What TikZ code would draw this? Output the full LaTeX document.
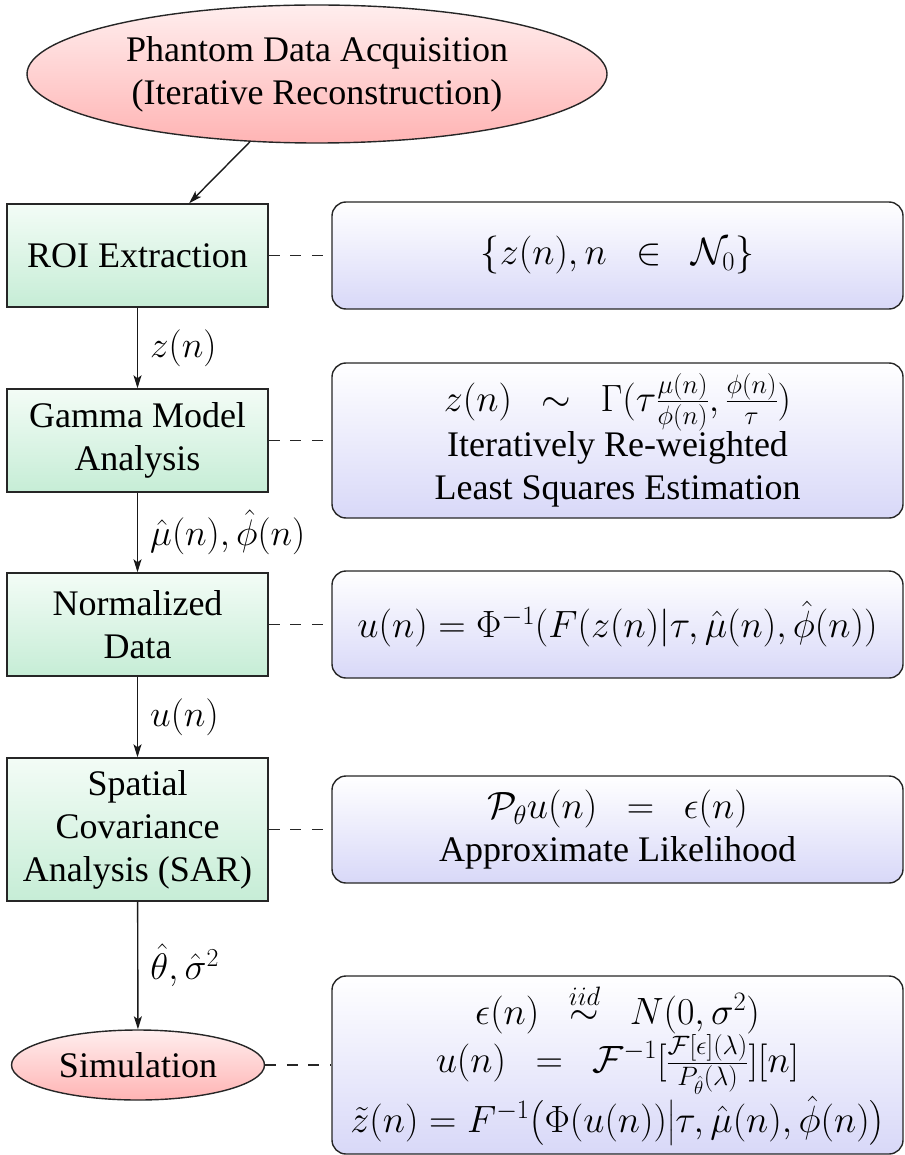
\RequirePackage{fix-cm}
\documentclass[tikz,border=0pt]{standalone}
\usepackage{amsmath}
\usepackage{exscale}
\usepackage[no-math]{fontspec}
\setmainfont{Liberation Serif}
\usetikzlibrary{shapes.geometric,arrows.meta}
\definecolor{pinkA}{HTML}{FFEEEE}
\definecolor{pinkB}{HTML}{FFB4B4}
\definecolor{greenA}{HTML}{F3FCF6}
\definecolor{greenB}{HTML}{C6EDD6}
\definecolor{blueB}{HTML}{D8D8F8}
\newcommand{\bigmath}[1]{{\fontsize{38}{43}\selectfont$#1$}}
\tikzset{
  base/.style={font=\fontsize{36}{43}\selectfont, line width=1.4pt, draw=black!85, text=black},
  startnode/.style={base, ellipse, top color=pinkA, bottom color=pinkB, inner sep=0pt, align=center},
  procbox/.style={base, rectangle, top color=greenA, bottom color=greenB, minimum width=261pt, align=center, inner sep=0pt},
  infobox/.style={base, rectangle, rounded corners=14pt, top color=white, bottom color=blueB, minimum width=571pt, align=center, inner sep=0pt},
  arr/.style={line width=1.4pt, draw=black!90, -{Stealth[length=13pt,width=8pt,inset=3pt]}},
  conn/.style={line width=1.4pt, draw=black!85, dash pattern=on 10.8pt off 10.8pt},
  lbl/.style={font=\fontsize{37}{43}\selectfont, right, inner sep=12pt}
}
\begin{document}
\begin{tikzpicture}[x=1pt,y=-1pt]
\useasboundingbox (0,0) rectangle (904,1155);
% left column
\node[startnode, minimum width=580pt, minimum height=138pt] (acq) at (317,74) {Phantom Data Acquisition\\(Iterative Reconstruction)};
\node[procbox, minimum height=103pt] (roi) at (137.5,255.5) {ROI Extraction};
\node[procbox, minimum height=103pt] (gam) at (137.5,440.5) {Gamma Model\\Analysis};
\node[procbox, minimum height=103pt] (nor) at (137.5,624.5) {Normalized\\Data};
\node[procbox, minimum height=143pt] (sar) at (137.5,829.5) {Spatial\\Covariance\\Analysis (SAR)};
\node[startnode, minimum width=253pt, minimum height=70pt] (sim) at (138,1065) {Simulation};
% right column
\node[infobox, minimum height=107pt] (r1) at (617.5,255.5) {\bigmath{\{z(n), n\ \ \in\ \ \mathcal{N}_0\}}};
\node[infobox, minimum height=155pt] (r2) at (617.5,440.5) {\bigmath{z(n)\ \ \sim\ \ \Gamma(\tau\frac{\mu(n)}{\phi(n)},\frac{\phi(n)}{\tau})}\\Iteratively Re-weighted\\Least Squares Estimation};
\node[infobox, minimum height=107pt] (r3) at (617.5,624.5) {\bigmath{u(n) = \Phi^{-1}(F(z(n)|\tau,\hat{\mu}(n),\hat{\phi}(n))}};
\node[infobox, minimum height=107pt] (r4) at (617.5,829.5) {\bigmath{\mathcal{P}_\theta u(n)\ \ =\ \ \epsilon(n)}\\Approximate Likelihood};
\node[infobox, minimum height=178pt] (r5) at (617.5,1065) {\bigmath{\epsilon(n)\ \ \overset{iid}{\sim}\ \ N(0,\sigma^2)}\\\bigmath{u(n)\ \ =\ \ \mathcal{F}^{-1}[\frac{\mathcal{F}[\epsilon](\lambda)}{P_{\hat{\theta}}(\lambda)}][n]}\\\bigmath{\tilde{z}(n) = F^{-1}\big(\Phi(u(n))\big|\tau,\hat{\mu}(n),\hat{\phi}(n)\big)}};
% arrows
\draw[arr] (acq) -- (roi);
\draw[arr] (roi) -- node[lbl]{$z(n)$} (gam);
\draw[arr] (gam) -- node[lbl]{$\hat{\mu}(n),\hat{\phi}(n)$} (nor);
\draw[arr] (nor) -- node[lbl]{$u(n)$} (sar);
\draw[arr] (sar) -- node[lbl]{$\hat{\theta},\hat{\sigma}^2$} (sim);
% dashed links
\draw[conn] (roi.east) -- (r1.west);
\draw[conn] (gam.east) -- (r2.west);
\draw[conn] (nor.east) -- (r3.west);
\draw[conn] (sar.east) -- (r4.west);
\draw[conn] (sim.east) -- (r5.west);
\end{tikzpicture}
\end{document}
